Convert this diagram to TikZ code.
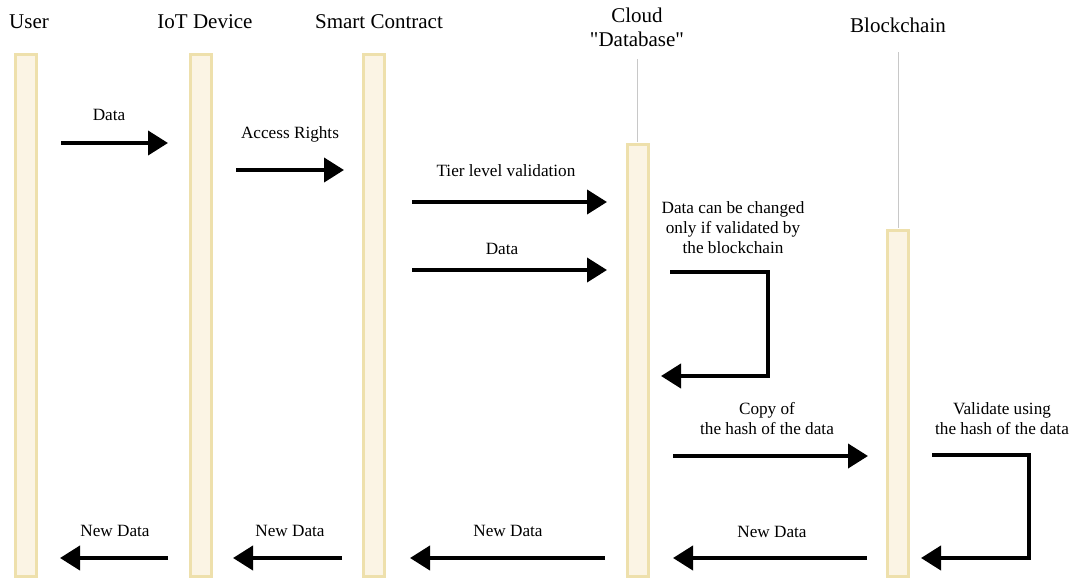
\documentclass[tikz,border=0pt]{standalone}
\usepackage{fontspec}
\setmainfont{Liberation Serif}[Ligatures=TeXOff]
\usetikzlibrary{arrows.meta}
\definecolor{barfill}{HTML}{FBF4E4}
\definecolor{barline}{HTML}{EEE0AC}
\definecolor{lifegray}{HTML}{C8C8C8}
\begin{document}
\begin{tikzpicture}[x=1pt,y=-1pt,
  title/.style={font=\fontsize{21}{24}\selectfont, align=center, inner sep=0pt},
  lbl/.style={font=\fontsize{17.2}{20}\selectfont, align=center, inner sep=0pt},
  bar/.style={draw=barline, fill=barfill, line width=3pt},
  life/.style={draw=lifegray, line width=0.8pt},
  msg/.style={line width=4pt, -{Triangle[length=20pt,width=24pt]}}]
\useasboundingbox (0,0) rectangle (1072,579);

% participant headings
\node[title] (tUser)  at (29,22)  {User};
\node[title] (tIoT)   at (205,22) {IoT Device};
\node[title] (tSC)    at (379,22) {Smart Contract};
\node[title] (tCloud) at (637,27) {Cloud\\"Database"};
\node[title] (tBC)    at (898,25) {Blockchain};

% thin lifelines above the late activation bars
\coordinate (cTop) at (637.5,59);
\coordinate (bTop) at (898,52);

% activation bars
\draw[bar] (15.5,54) rectangle (36.5,576);
\draw[bar] (190.5,54) rectangle (211.5,576);
\draw[bar] (363.5,54) rectangle (384.5,576);
\draw[bar] (627,144) rectangle (648,576);
\draw[bar] (887.5,230) rectangle (908.5,576);
\draw[life] (cTop) -- (637.5,142);
\draw[life] (bTop) -- (898,228);

% anchors for the messages
\coordinate (m1s) at (61,143);   \coordinate (m1e) at (168,143);
\coordinate (m2s) at (236,170);  \coordinate (m2e) at (344,170);
\coordinate (m3s) at (412,202);  \coordinate (m3e) at (607,202);
\coordinate (m4s) at (412,270);  \coordinate (m4e) at (607,270);
\coordinate (l1s) at (670,272);  \coordinate (l1a) at (768,272);
\coordinate (l1b) at (768,376);  \coordinate (l1e) at (661,376);
\coordinate (m5s) at (673,456);  \coordinate (m5e) at (868,456);
\coordinate (l2s) at (932,455);  \coordinate (l2a) at (1029,455);
\coordinate (l2b) at (1029,558); \coordinate (l2e) at (921,558);
\coordinate (n1s) at (867,558);  \coordinate (n1e) at (673,558);
\coordinate (n2s) at (605,558);  \coordinate (n2e) at (410,558);
\coordinate (n3s) at (342,558);  \coordinate (n3e) at (233,558);
\coordinate (n4s) at (168,558);  \coordinate (n4e) at (60,558);

% messages
\draw[msg] (m1s) -- (m1e);
\draw[msg] (m2s) -- (m2e);
\draw[msg] (m3s) -- (m3e);
\draw[msg] (m4s) -- (m4e);
\draw[msg] (l1s) -- (l1a) -- (l1b) -- (l1e);
\draw[msg] (m5s) -- (m5e);
\draw[msg] (l2s) -- (l2a) -- (l2b) -- (l2e);
\draw[msg] (n1s) -- (n1e);
\draw[msg] (n2s) -- (n2e);
\draw[msg] (n3s) -- (n3e);
\draw[msg] (n4s) -- (n4e);

% message labels
\node[lbl] (d1) at (109,115) {Data};
\node[lbl] (d2) at (290,134) {Access Rights};
\node[lbl] (d3) at (506,171) {Tier level validation};
\node[lbl] (d4) at (502,249) {Data};
\node[lbl] (d5) at (733,228) {Data can be changed\\only if validated by\\the blockchain};
\node[lbl] (d6) at (767,419) {Copy of\\the hash of the data};
\node[lbl] (d7) at (1002,419) {Validate using\\the hash of the data};
\node[lbl] (d8) at (772,532) {New Data};
\node[lbl] (d9) at (508,531) {New Data};
\node[lbl] (d10) at (290,531) {New Data};
\node[lbl] (d11) at (115,531) {New Data};
\end{tikzpicture}
\end{document}
